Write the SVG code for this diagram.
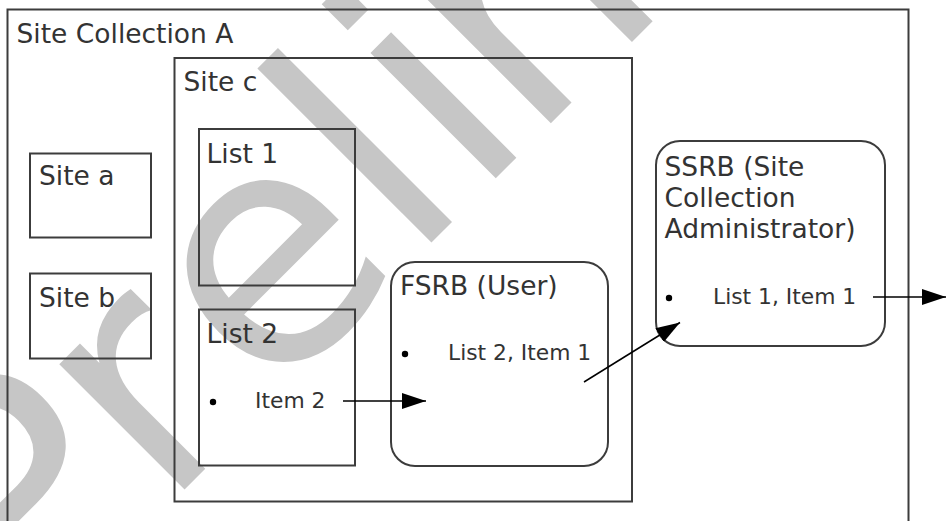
<svg xmlns="http://www.w3.org/2000/svg" width="946" height="521" viewBox="0 0 946 521">
  <style>
    .box { fill: none; stroke: #3c3c3c; stroke-width: 2; }
    .lbl { font-family: "DejaVu Sans", Verdana, sans-serif; font-size: 26.5px; fill: #333333; }
    .item { font-family: "DejaVu Sans", Verdana, sans-serif; font-size: 21.8px; fill: #333333; }
    .bullet { fill: #000000; }
    .conn { stroke: #000000; stroke-width: 1.5; fill: none; marker-end: url(#arrow); }
    .wm { font-family: "DejaVu Sans", Verdana, sans-serif; font-size: 324px; fill: #c6c6c6; }
  </style>
  <defs>
    <marker id="arrow" markerUnits="userSpaceOnUse" markerWidth="24" markerHeight="16" refX="24" refY="8" orient="auto">
      <path d="M0,0 L24,8 L0,16 Z" fill="#000000"/>
    </marker>
  </defs>
  <rect x="0" y="0" width="946" height="521" fill="#ffffff"/>

  <g id="watermark">
    <text class="wm" transform="translate(337,337) rotate(-45)" x="-435 -245 -98 103 194 273" y="0">Preliminary</text>
  </g>

  <g id="site-collection-a">
    <rect class="box" x="7.5" y="9.5" width="901" height="530"/>
    <text class="lbl" x="16.5" y="43">Site Collection A</text>
  </g>

  <g id="site-a">
    <rect class="box" x="30" y="153.5" width="121" height="84"/>
    <text class="lbl" x="39" y="185">Site a</text>
  </g>

  <g id="site-b">
    <rect class="box" x="30" y="273.5" width="121" height="85"/>
    <text class="lbl" x="39" y="307">Site b</text>
  </g>

  <g id="site-c">
    <rect class="box" x="174.5" y="58" width="457.5" height="443.5"/>
    <text class="lbl" x="183.5" y="90.5">Site c</text>
  </g>

  <g id="list-1">
    <rect class="box" x="199" y="129" width="156" height="156.5"/>
    <text class="lbl" x="206.5" y="163">List 1</text>
  </g>

  <g id="list-2">
    <rect class="box" x="199" y="309.5" width="156" height="156"/>
    <text class="lbl" x="206.5" y="343">List 2</text>
    <circle class="bullet" cx="213" cy="402" r="3.2"/>
    <text class="item" x="255" y="408">Item 2</text>
  </g>

  <g id="fsrb">
    <rect class="box" x="391" y="262" width="217" height="204" rx="24" ry="24"/>
    <text class="lbl" x="400" y="295">FSRB (User)</text>
    <circle class="bullet" cx="405" cy="354" r="3.2"/>
    <text class="item" x="448" y="360">List 2, Item 1</text>
  </g>

  <g id="ssrb">
    <rect class="box" x="656" y="141" width="229" height="205" rx="24" ry="24"/>
    <text class="lbl" x="664.5" y="176">SSRB (Site</text>
    <text class="lbl" x="664.5" y="207">Collection</text>
    <text class="lbl" x="664.5" y="238">Administrator)</text>
    <circle class="bullet" cx="669" cy="298" r="3.2"/>
    <text class="item" x="713" y="304">List 1, Item 1</text>
  </g>

  <g id="connectors">
    <line class="conn" x1="343" y1="401" x2="426" y2="401"/>
    <line class="conn" x1="584" y1="382" x2="680" y2="322.5"/>
    <line class="conn" x1="873" y1="297" x2="946" y2="297"/>
  </g>
</svg>
